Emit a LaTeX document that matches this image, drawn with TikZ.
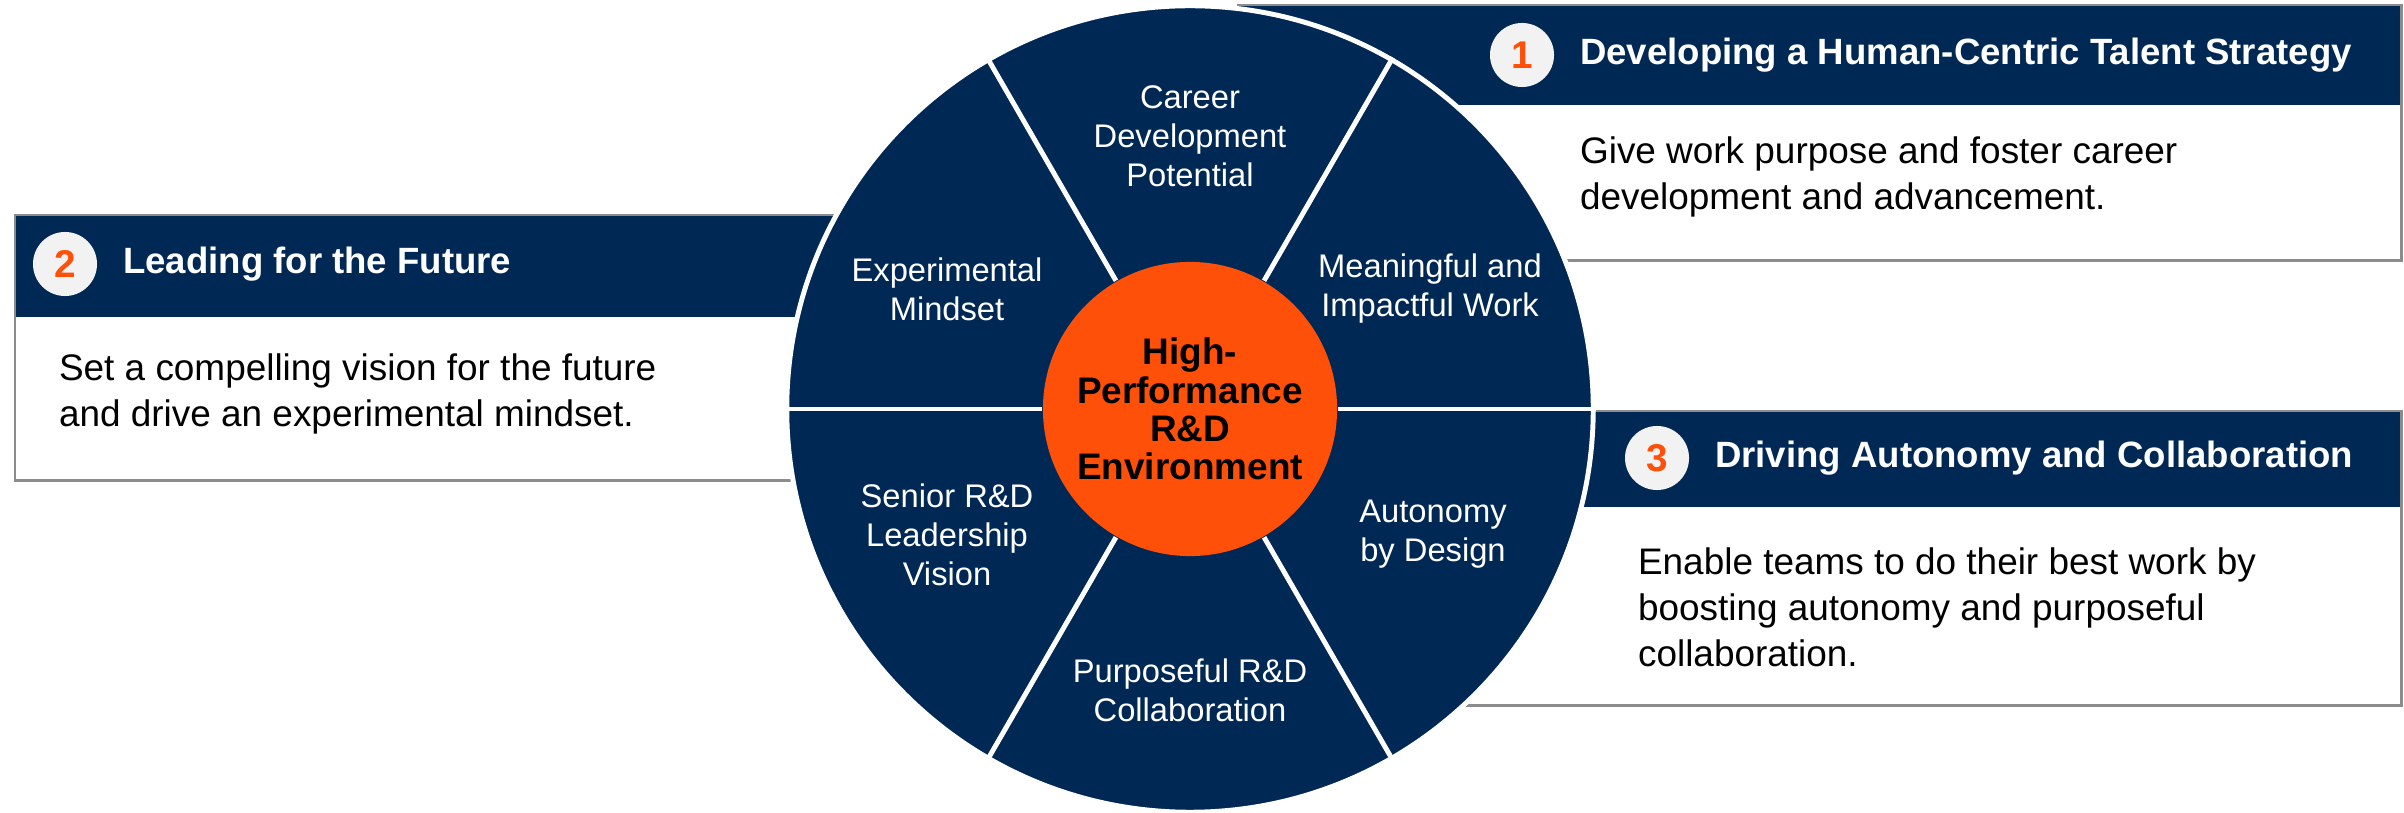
\documentclass[tikz,border=0pt]{standalone}
\usepackage{fontspec}
\setmainfont{Liberation Sans}
\usetikzlibrary{positioning}
\definecolor{navy}{HTML}{002855}
\definecolor{accent}{HTML}{FE5009}
\definecolor{framegray}{HTML}{8C8C8C}
\definecolor{badgegray}{HTML}{F2F2F2}

\begin{document}
\begin{tikzpicture}[
                            x=0.01cm,
                            y=-0.01cm,
                            node distance=0.24cm,
                            semithick
                        ]

                        \tikzstyle{card}=[rectangle,fill=white,inner sep=0pt,anchor=north west]
                        \tikzstyle{cardhead}=[rectangle,fill=navy,inner sep=0pt,anchor=north west]
                        \tikzstyle{frame}=[draw=framegray,line width=0.8pt]
                        \tikzstyle{badge}=[circle,fill=badgegray,text=accent,minimum size=0.64cm,inner sep=0pt,font=\fontsize{11}{13}\selectfont\bfseries]
                        \tikzstyle{headtext}=[text=white,inner sep=0pt,font=\fontsize{10.4}{12}\selectfont\bfseries]
                        \tikzstyle{bodytext}=[text=black,inner sep=0pt,align=left,anchor=north west,font=\fontsize{10.5}{13.1}\selectfont]
                        \tikzstyle{segtext}=[text=white,inner sep=0pt,align=center,font=\fontsize{9.3}{11.1}\selectfont]
                        \tikzstyle{spoke}=[draw=white,line width=1.4pt]

                        \useasboundingbox (0,0) rectangle (2404,813);

                        \node[card,minimum width=11.61cm,minimum height=2.53cm] (C1) at (1238,5) {};
                        \node[cardhead,minimum width=11.61cm,minimum height=0.99cm] (H1) at (C1.north west) {};
                        \draw[frame] (C1.north west) rectangle (C1.south east);
                        \node[badge] (N1) at (1522,55) {1};
                        \node[headtext] (T1) [right=of N1] {Developing a Human-Centric Talent Strategy};
                        \node[bodytext] (B1) at (1579,136) {Give work purpose and foster career\\development and advancement.};

                        \node[card,minimum width=9.85cm,minimum height=2.63cm] (C2) at (15,215) {};
                        \node[cardhead,minimum width=9.85cm,minimum height=1.01cm] (H2) at (C2.north west) {};
                        \draw[frame] (C2.north west) rectangle (C2.south east);
                        \node[badge] (N2) at (65,264) {2};
                        \node[headtext] (T2) [right=of N2] {Leading for the Future};
                        \node[bodytext] (B2) at (58,353) {Set a compelling vision for the future\\and drive an experimental mindset.};

                        \node[card,minimum width=9.99cm,minimum height=2.92cm] (C3) at (1400,411) {};
                        \node[cardhead,minimum width=9.99cm,minimum height=0.95cm] (H3) at (C3.north west) {};
                        \draw[frame] (C3.north west) rectangle (C3.south east);
                        \node[badge] (N3) at (1657,458) {3};
                        \node[headtext] (T3) [right=of N3] {Driving Autonomy and Collaboration};
                        \node[bodytext] (B3) at (1637,547) {Enable teams to do their best work by\\boosting autonomy and purposeful\\collaboration.};

                        \node[circle,fill=navy,draw=white,line width=1.4pt,minimum size=8.06cm,inner sep=0pt] (W) at (1190,409) {};
                        \node[circle,fill=accent,minimum size=2.94cm,inner sep=0pt,align=center,font=\fontsize{10.5}{10.9}\selectfont\bfseries] (R) at (W.center) {High-\\Performance\\R\&D\\Environment};

                        \foreach \a in {0,60,...,300}
                            \draw[spoke] (R.\a) -- (W.\a);

                        \node[segtext] (S1) at (1190,136) {Career\\Development\\Potential};
                        \node[segtext] (S2) at (1430,289) {Meaningful and\\Impactful Work};
                        \node[segtext] (S3) at (1433,534) {Autonomy\\by Design};
                        \node[segtext] (S4) at (1190,690) {Purposeful R\&D\\Collaboration};
                        \node[segtext] (S5) at (947,535) {Senior R\&D\\Leadership\\Vision};
                        \node[segtext] (S6) at (947,289) {Experimental\\Mindset};
                    \end{tikzpicture}
\end{document}
